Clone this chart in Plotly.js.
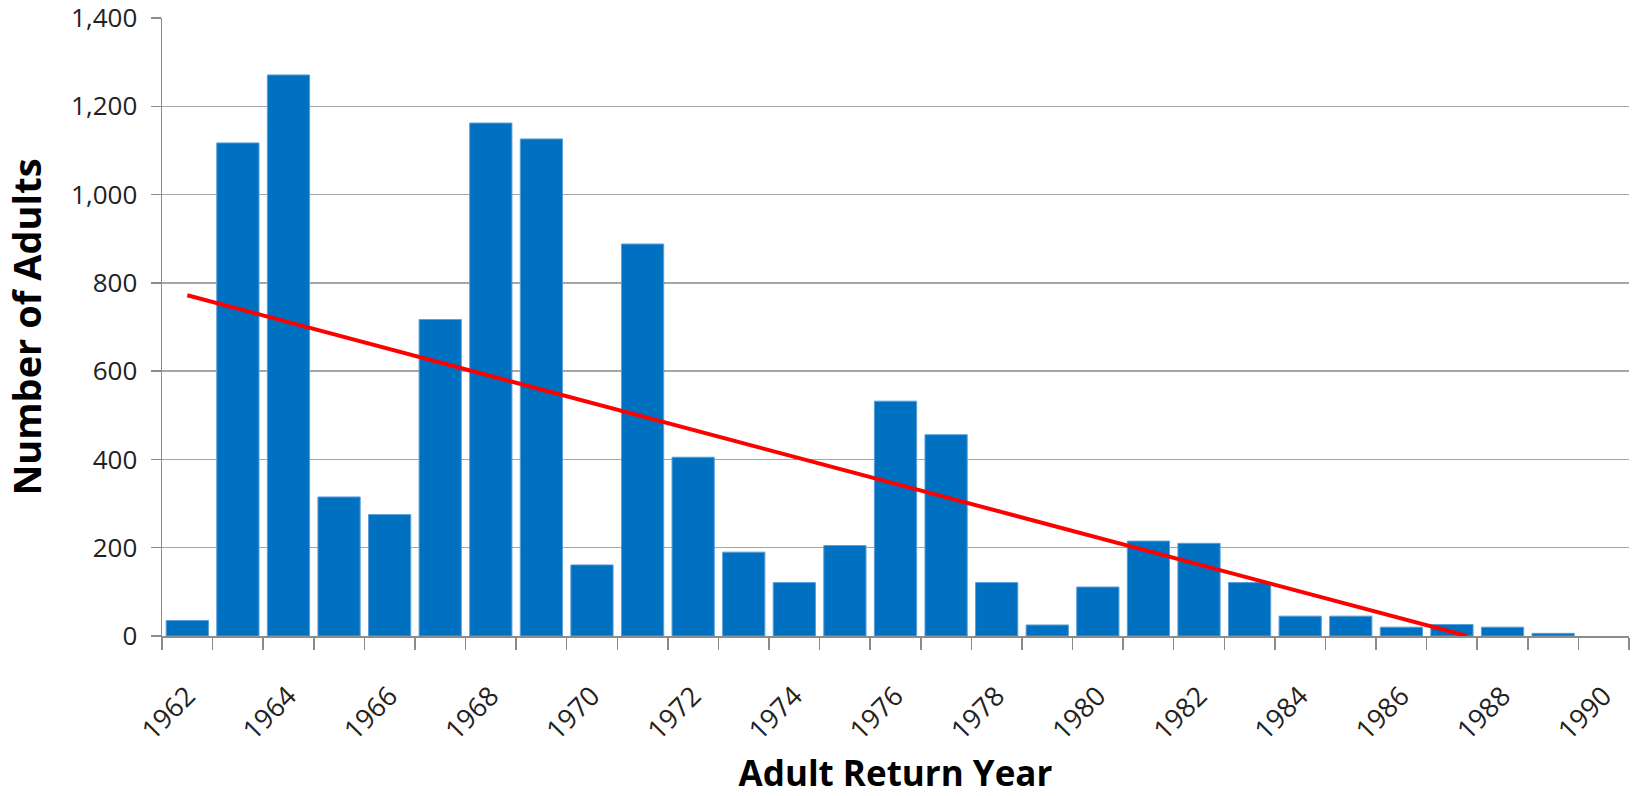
<!DOCTYPE html>
<html>
<head>
<meta charset="utf-8">
<script src="https://cdn.plot.ly/plotly-3.0.1.min.js"></script>
<style>
html, body { margin: 0; padding: 0; background: #ffffff; }
#chart { width: 1637px; height: 796px; }
</style>
</head>
<body>
<div id="chart"></div>
<script>
// Adult return years and counts
const years = [1962, 1963, 1964, 1965, 1966, 1967, 1968, 1969, 1970, 1971,
               1972, 1973, 1974, 1975, 1976, 1977, 1978, 1979, 1980, 1981,
               1982, 1983, 1984, 1985, 1986, 1987, 1988, 1989];
const adults = [35, 1117, 1271, 315, 275, 717, 1162, 1126, 161, 888,
                405, 190, 121, 205, 532, 456, 121, 25, 111, 215,
                210, 121, 45, 45, 20, 26, 20, 6];

// Linear trend line (start and where it meets zero)
const trendYears = [1962, 1987.3];
const trendValues = [772, 0];

// Tick labels on the year axis
const yearTickVals = [1962, 1964, 1966, 1968, 1970, 1972, 1974, 1976, 1978,
                      1980, 1982, 1984, 1986, 1988, 1990];
const yearTickText = ['1962', '1964', '1966', '1968', '1970', '1972', '1974', '1976', '1978',
                      '1980', '1982', '1984', '1986', '1988', '1990'];
const countTickVals = [0, 200, 400, 600, 800, 1000, 1200, 1400];

const FONT = '"Open Sans", "DejaVu Sans", sans-serif';

const traces = [
  {
    type: 'bar',
    x: years,
    y: adults,
    marker: { color: '#0070C0', line: { color: '#5a9fd8', width: 1 } },
    hoverinfo: 'x+y',
    showlegend: false
  },
  {
    type: 'scatter',
    mode: 'lines',
    x: trendYears,
    y: trendValues,
    line: { color: '#ff0000', width: 4 },
    hoverinfo: 'skip',
    showlegend: false
  }
];

const layout = {
  width: 1637,
  height: 796,
  paper_bgcolor: '#ffffff',
  plot_bgcolor: '#ffffff',
  margin: { l: 162, r: 8, t: 18, b: 160, pad: 0 },
  bargap: 0.165,
  font: { family: FONT, color: '#222222' },
  xaxis: {
    range: [1961.5, 1990.5],
    tickmode: 'array',
    tickvals: yearTickVals,
    ticktext: yearTickText,
    tickangle: -45,
    tickfont: { family: FONT, size: 27, color: '#222222' },
    ticks: 'outside',
    ticklen: 32,
    tickcolor: 'rgba(0,0,0,0)',
    showgrid: false,
    zeroline: false,
    showline: true,
    linecolor: '#8c8c8c',
    linewidth: 1.5,
    minor: {
      tickmode: 'linear',
      tick0: 1961.5,
      dtick: 1,
      ticks: 'outside',
      ticklen: 12,
      tickcolor: '#8c8c8c',
      tickwidth: 1.5,
      showgrid: false
    },
    title: {
      text: 'Adult Return Year',
      font: { family: FONT, size: 35, color: '#000000', weight: 'bold' },
      standoff: 37
    },
    fixedrange: true
  },
  yaxis: {
    range: [0, 1400],
    tickmode: 'array',
    tickvals: countTickVals,
    tickformat: ',d',
    tickfont: { family: FONT, size: 26, color: '#222222' },
    ticklabelstandoff: 8,
    ticklabeloverflow: 'allow',
    ticks: 'outside',
    ticklen: 10,
    tickcolor: '#8c8c8c',
    tickwidth: 1.5,
    showgrid: true,
    gridcolor: '#a6a6a6',
    gridwidth: 1.5,
    zeroline: false,
    showline: true,
    linecolor: '#8c8c8c',
    linewidth: 1.5,
    title: {
      text: 'Number of Adults',
      font: { family: FONT, size: 38, color: '#000000', weight: 'bold' },
      standoff: 20
    },
    fixedrange: true
  }
};

Plotly.newPlot('chart', traces, layout, { displayModeBar: false, staticPlot: true });
</script>
</body>
</html>
